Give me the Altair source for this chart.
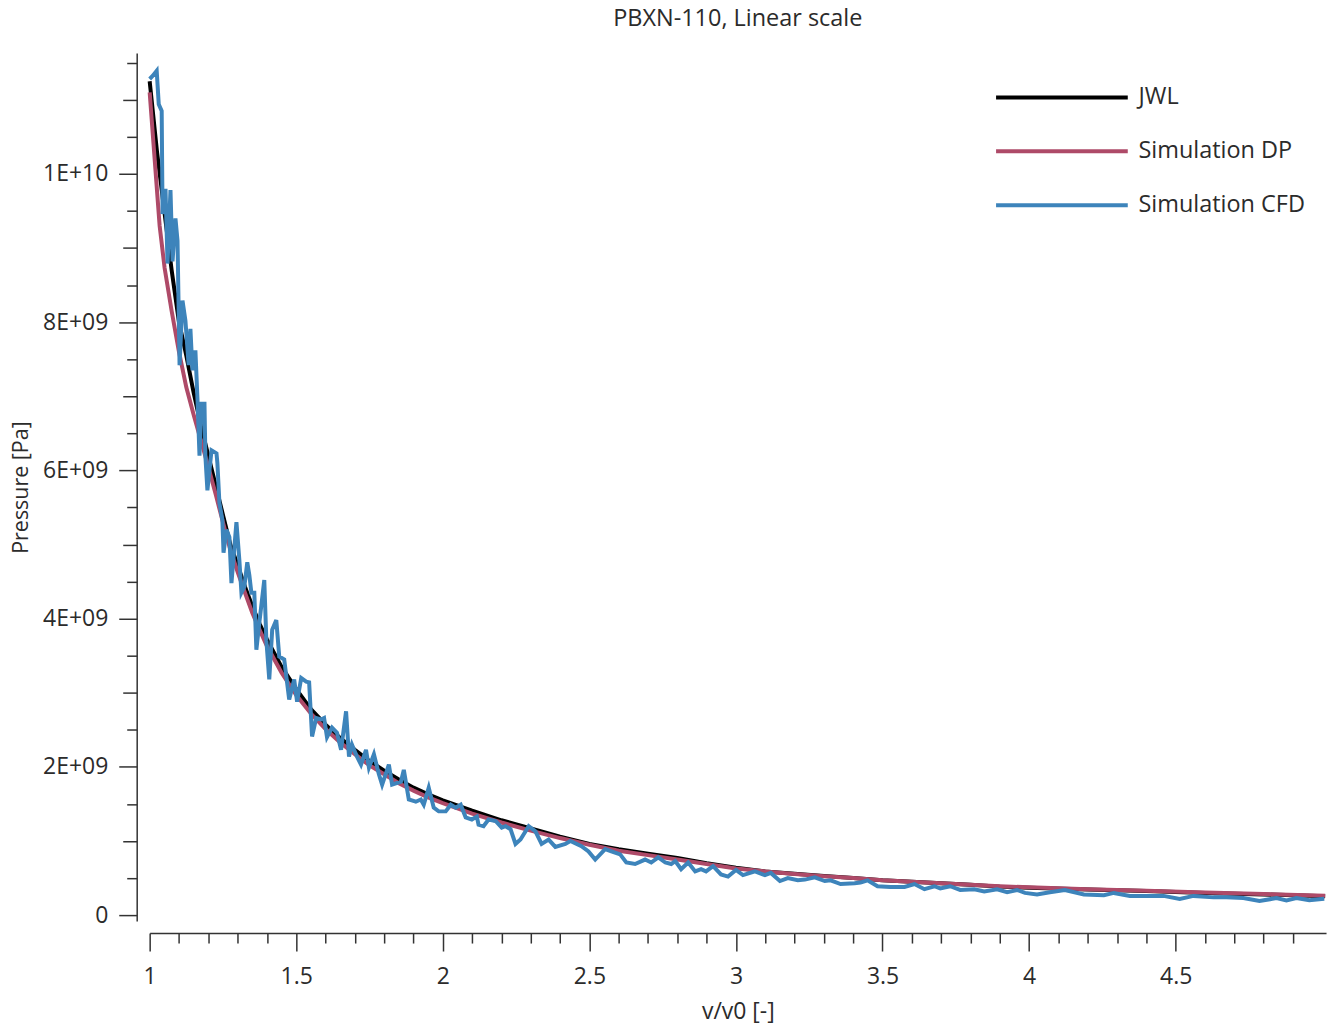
import altair as alt
import pandas as pd

# ---- data (pressure in units of 1e9 Pa) ----
jwl_v = [1.00, 1.025, 1.05, 1.075, 1.10, 1.125, 1.15, 1.175, 1.20, 1.225, 1.25, 1.275, 1.30, 1.325,
         1.35, 1.375, 1.40, 1.45, 1.50, 1.55, 1.60, 1.65, 1.70, 1.75, 1.80, 1.85, 1.90, 1.95, 2.00,
         2.10, 2.20, 2.30, 2.40, 2.50, 2.60, 2.70, 2.80, 2.90, 3.00, 3.10, 3.20, 3.30, 3.40, 3.50,
         3.60, 3.70, 3.80, 3.90, 4.00, 4.20, 4.40, 4.60, 4.80, 5.01]
jwl_p = [11.25, 10.3, 9.5, 8.7, 8.0, 7.55, 7.05, 6.6, 6.2, 5.8, 5.4, 5.0, 4.72, 4.43,
         4.17, 3.93, 3.72, 3.35, 3.05, 2.78, 2.57, 2.39, 2.23, 2.08, 1.95, 1.83, 1.72, 1.63, 1.55,
         1.41, 1.28, 1.17, 1.06, 0.96, 0.89, 0.83, 0.77, 0.70, 0.64, 0.59, 0.56, 0.53, 0.50, 0.47,
         0.45, 0.43, 0.41, 0.385, 0.37, 0.345, 0.325, 0.30, 0.28, 0.256]

dp_v = [1.00, 1.017, 1.034, 1.051, 1.075, 1.10, 1.125, 1.15, 1.175, 1.20, 1.225, 1.25, 1.275, 1.30,
        1.325, 1.35, 1.375, 1.40, 1.45, 1.50, 1.55, 1.60, 1.65, 1.70, 1.75, 1.80, 1.85, 1.90, 1.95,
        2.00, 2.10, 2.20, 2.30, 2.40, 2.50, 2.60, 2.70, 2.80, 2.90, 3.00, 3.10, 3.20, 3.30, 3.40,
        3.50, 3.60, 3.70, 3.80, 3.90, 4.00, 4.20, 4.40, 4.60, 4.80, 5.01]
dp_p = [11.1, 10.2, 9.3, 8.73, 8.15, 7.6, 7.12, 6.75, 6.4, 6.05, 5.68, 5.3, 4.93, 4.63,
        4.35, 4.08, 3.85, 3.63, 3.27, 2.97, 2.72, 2.51, 2.33, 2.17, 2.02, 1.90, 1.78, 1.68, 1.59,
        1.51, 1.37, 1.25, 1.14, 1.04, 0.95, 0.87, 0.81, 0.75, 0.69, 0.63, 0.59, 0.555, 0.525, 0.50,
        0.47, 0.45, 0.43, 0.41, 0.39, 0.375, 0.35, 0.33, 0.305, 0.285, 0.262]

cfd_v = [1.000, 1.010, 1.024, 1.031, 1.041, 1.044, 1.054, 1.061, 1.071, 1.078, 1.088, 1.095, 1.102,
         1.112, 1.122, 1.133, 1.139, 1.146, 1.156, 1.163, 1.170, 1.177, 1.187, 1.190, 1.197, 1.211,
         1.228, 1.231, 1.238, 1.248, 1.252, 1.262, 1.272, 1.279, 1.296, 1.306, 1.313, 1.323, 1.333,
         1.340, 1.347, 1.357, 1.364, 1.374, 1.391, 1.398, 1.408, 1.418, 1.432, 1.442, 1.459, 1.476,
         1.493, 1.503, 1.517, 1.534, 1.544, 1.554, 1.568, 1.585, 1.595, 1.605, 1.622, 1.639, 1.653,
         1.670, 1.680, 1.690, 1.707, 1.721, 1.738, 1.748, 1.765, 1.782, 1.793, 1.816, 1.827, 1.857,
         1.867, 1.884, 1.908, 1.925, 1.935, 1.952, 1.969, 1.986, 2.010, 2.027, 2.044, 2.061, 2.078,
         2.099, 2.116, 2.122, 2.139, 2.156, 2.180, 2.201, 2.214, 2.231, 2.248, 2.265, 2.293, 2.316,
         2.337, 2.361, 2.384, 2.418, 2.435, 2.473, 2.497, 2.520, 2.554, 2.575, 2.605, 2.626, 2.656,
         2.690, 2.711, 2.735, 2.759, 2.779, 2.793, 2.813, 2.837, 2.861, 2.881, 2.898, 2.922, 2.949,
         2.973, 3.000, 3.024, 3.065, 3.099, 3.119, 3.150, 3.177, 3.211, 3.235, 3.269, 3.303, 3.323,
         3.357, 3.405, 3.425, 3.449, 3.483, 3.527, 3.575, 3.609, 3.643, 3.677, 3.697, 3.731, 3.765,
         3.813, 3.847, 3.891, 3.925, 3.959, 3.986, 4.027, 4.071, 4.122, 4.187, 4.255, 4.289, 4.344,
         4.401, 4.459, 4.514, 4.561, 4.629, 4.673, 4.731, 4.786, 4.844, 4.878, 4.912, 4.956, 5.007]
cfd_p = [11.28, 11.32, 11.39, 10.94, 10.85, 9.46, 9.80, 8.79, 9.78, 8.82, 9.40, 9.10, 7.42,
         8.29, 8.02, 7.42, 7.91, 7.35, 7.62, 6.97, 6.20, 6.90, 6.90, 6.20, 5.73, 6.27,
         6.23, 6.10, 5.56, 5.33, 4.89, 5.20, 5.10, 4.48, 5.30, 4.79, 4.35, 4.43, 4.76,
         4.59, 4.35, 4.35, 3.58, 3.94, 4.52, 3.71, 3.18, 3.85, 3.98, 3.49, 3.45, 2.91,
         3.18, 2.88, 3.20, 3.15, 3.14, 2.41, 2.66, 2.64, 2.66, 2.40, 2.53, 2.46, 2.23,
         2.75, 2.14, 2.30, 2.14, 2.03, 2.23, 1.99, 2.17, 1.90, 1.76, 2.03, 1.76, 1.80,
         1.96, 1.56, 1.53, 1.56, 1.49, 1.72, 1.45, 1.40, 1.40, 1.49, 1.45, 1.49, 1.32,
         1.29, 1.33, 1.22, 1.20, 1.29, 1.27, 1.18, 1.20, 1.16, 0.96, 1.02, 1.20, 1.13,
         0.96, 1.02, 0.92, 0.96, 1.00, 0.93, 0.86, 0.75, 0.89, 0.86, 0.82, 0.71, 0.69,
         0.75, 0.71, 0.78, 0.71, 0.69, 0.73, 0.62, 0.71, 0.59, 0.62, 0.59, 0.66, 0.55,
         0.52, 0.61, 0.54, 0.59, 0.54, 0.57, 0.46, 0.50, 0.47, 0.48, 0.51, 0.46, 0.47,
         0.42, 0.43, 0.44, 0.47, 0.39, 0.38, 0.38, 0.42, 0.35, 0.39, 0.36, 0.39, 0.34,
         0.35, 0.32, 0.35, 0.31, 0.34, 0.30, 0.28, 0.31, 0.34, 0.28, 0.27, 0.30, 0.26,
         0.26, 0.26, 0.22, 0.26, 0.24, 0.24, 0.23, 0.19, 0.23, 0.20, 0.23, 0.20, 0.22]

series_names = ["JWL", "Simulation DP", "Simulation CFD"]
series_colors = ["#000000", "#ae4a68", "#3d84bb"]

x_ticks = [round(1 + 0.1 * i, 1) for i in range(40)]   # 1.0 ... 4.9
y_ticks = [i * 5e8 for i in range(24)]                  # 0 ... 1.15e10

rows = []
for name, vs, ps in [(series_names[0], jwl_v, jwl_p),
                     (series_names[1], dp_v, dp_p),
                     (series_names[2], cfd_v, cfd_p)]:
    for i, (v, p) in enumerate(zip(vs, ps)):
        rows.append({"series": name, "order": i, "v": v, "p": p * 1e9})
df = pd.DataFrame(rows)

FONT = "Segoe UI, Open Sans, sans-serif"
TXT = "#2b2b2b"
AX = "#333333"

x_axis = alt.Axis(
    title="v/v0 [-]", values=x_ticks, offset=12, grid=False,
    labelExpr="abs(datum.value*2 - round(datum.value*2)) < 1e-6 ? format(datum.value, '~g') : ''",
    tickSize={"condition": {"test": "abs(datum.value*2 - round(datum.value*2)) < 1e-6", "value": 18}, "value": 10},
    tickColor=AX, domainColor=AX, domainWidth=1.5, tickWidth=1.5,
    labelFont=FONT, labelFontSize=23, labelColor=TXT, labelPadding=15, labelFlush=False,
    titleFont=FONT, titleFontSize=23, titleFontWeight="normal", titleColor=TXT, titlePadding=12,
)
y_axis = alt.Axis(
    title="Pressure [Pa]", values=y_ticks, offset=13, grid=False,
    labelExpr="datum.value == 0 ? '0' : (datum.value % 2e9 != 0 ? '' : (datum.value >= 1e10 ? format(datum.value/1e10, '.0f') + 'E+10' : format(datum.value/1e9, '.0f') + 'E+09'))",
    tickSize={"condition": [{"test": "datum.value % 2e9 == 0", "value": 18},
                            {"test": "datum.value % 1e9 == 0", "value": 14}], "value": 10},
    tickColor=AX, domainColor=AX, domainWidth=1.5, tickWidth=1.5,
    labelFont=FONT, labelFontSize=23, labelColor=TXT, labelPadding=11, labelFlush=False,
    titleFont=FONT, titleFontSize=21.5, titleFontWeight="normal", titleColor=TXT, titlePadding=10,
)

# legend symbol: a long horizontal stroke drawn from a small nominal symbol size
legend = alt.Legend(
    title=None, orient="none", legendX=846, legendY=29,
    symbolType="M-1,0H9", symbolSize=697, symbolStrokeWidth=4,
    labelFont=FONT, labelFontSize=23.5, labelColor=TXT, labelLimit=400,
    labelOffset=114, rowPadding=27, padding=0,
)

chart = alt.Chart(df).mark_line(strokeWidth=4, interpolate="linear").encode(
    x=alt.X("v:Q", scale=alt.Scale(domain=[1, 5.013], nice=False, zero=False), axis=x_axis),
    y=alt.Y("p:Q", scale=alt.Scale(domain=[-0.08e9, 11.63e9], nice=False, zero=False), axis=y_axis),
    color=alt.Color("series:N",
                    scale=alt.Scale(domain=series_names, range=series_colors),
                    sort=series_names, legend=legend),
    detail="series:N",
    order="order:Q",
).properties(
    width=1179, height=870,
    padding={"left": 10, "top": 5, "right": 5, "bottom": 5},
    title=alt.TitleParams("PBXN-110, Linear scale", font=FONT, fontSize=23.5, fontWeight="normal",
                          color=TXT, anchor="middle", offset=23),
).configure_view(strokeWidth=0, stroke=None)

chart.save("out.html", embed_options={"renderer": "svg", "actions": False})
